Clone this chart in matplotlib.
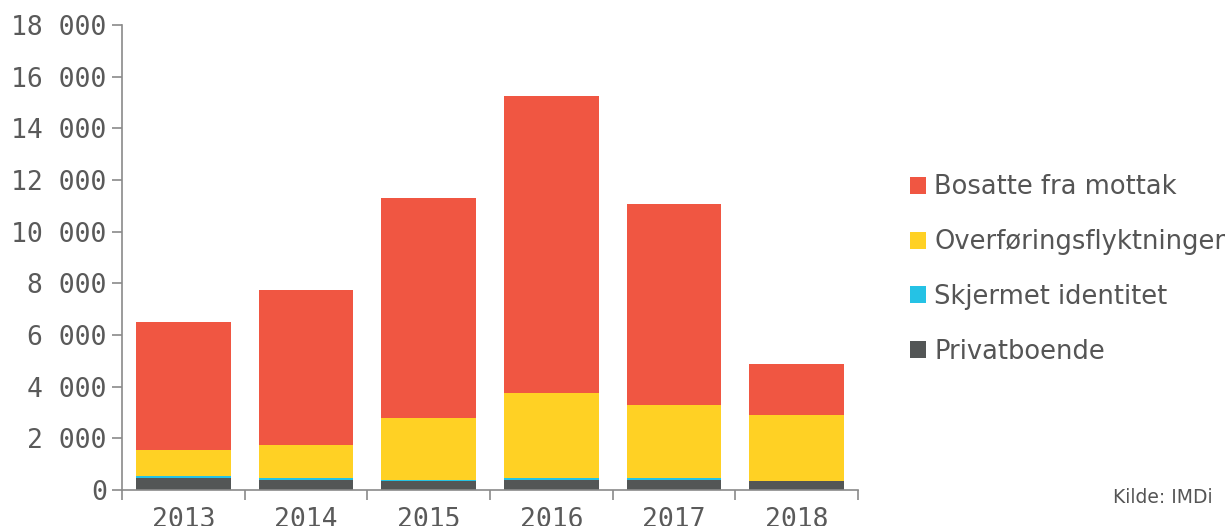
import matplotlib
matplotlib.use("Agg")
import matplotlib.pyplot as plt
from matplotlib.patches import Patch
from matplotlib.ticker import FuncFormatter, MultipleLocator, FixedLocator
import numpy as np

# --- Daten ---
years = ["2013", "2014", "2015", "2016", "2017", "2018"]
privatboende = [455, 400, 335, 400, 400, 335]
skjermet = [105, 55, 65, 55, 55, 15]
overforing = [980, 1270, 2390, 3300, 2835, 2550]
mottak = [4960, 6015, 8510, 11495, 7780, 1980]

series = [
    ("Privatboende", privatboende, "#535656"),
    ("Skjermet identitet", skjermet, "#25C2E5"),
    ("Overføringsflyktninger", overforing, "#FFD124"),
    ("Bosatte fra mottak", mottak, "#F05642"),
]

GREY = "#555555"
AXIS = "#8a8a8a"

fig = plt.figure(figsize=(12.3, 5.26), dpi=100)
ax = fig.add_axes([0.0992, 0.0684, 0.5984, 0.8841])

x = np.arange(len(years))
bottom = np.zeros(len(years))
for name, vals, col in series:
    ax.bar(x, vals, width=0.77, bottom=bottom, color=col, linewidth=0)
    bottom += np.array(vals)

ax.set_xlim(-0.5, len(years) - 0.5)
ax.set_ylim(0, 18000)

for s in ("top", "right"):
    ax.spines[s].set_visible(False)
for s in ("left", "bottom"):
    ax.spines[s].set_color(AXIS)
    ax.spines[s].set_linewidth(1.2)

ax.yaxis.set_major_locator(MultipleLocator(2000))
ax.yaxis.set_major_formatter(FuncFormatter(lambda v, p: f"{int(v):,}".replace(",", " ")))
ax.tick_params(axis="y", length=7, width=1.2, color=AXIS, pad=4,
               labelsize=19, labelcolor="#5a5a5a")

ax.set_xticks(x)
ax.set_xticklabels(years)
ax.xaxis.set_minor_locator(FixedLocator(np.arange(-0.5, len(years), 1.0)))
ax.tick_params(axis="x", which="major", length=0, pad=12, labelsize=19, labelcolor="#5a5a5a")
ax.tick_params(axis="x", which="minor", length=7, width=1.2, color=AXIS)

for lbl in ax.get_xticklabels() + ax.get_yticklabels():
    lbl.set_family("DejaVu Sans Mono")

handles = [Patch(facecolor=col, edgecolor="none") for _, _, col in reversed(series)]
labels = [name for name, _, _ in reversed(series)]
leg = fig.legend(handles, labels, loc="upper left", bbox_to_anchor=(0.7313, 0.688),
                 frameon=False, fontsize=18.5, handlelength=0.65, handleheight=0.65,
                 handletextpad=0.3, labelspacing=1.12, borderaxespad=0)
for t in leg.get_texts():
    t.set_color(GREY)

fig.text(0.986, 0.055, "Kilde: IMDi", ha="right", va="center", fontsize=13.5,
         color=GREY, family="DejaVu Sans")

fig.savefig("out.png", dpi=100)
